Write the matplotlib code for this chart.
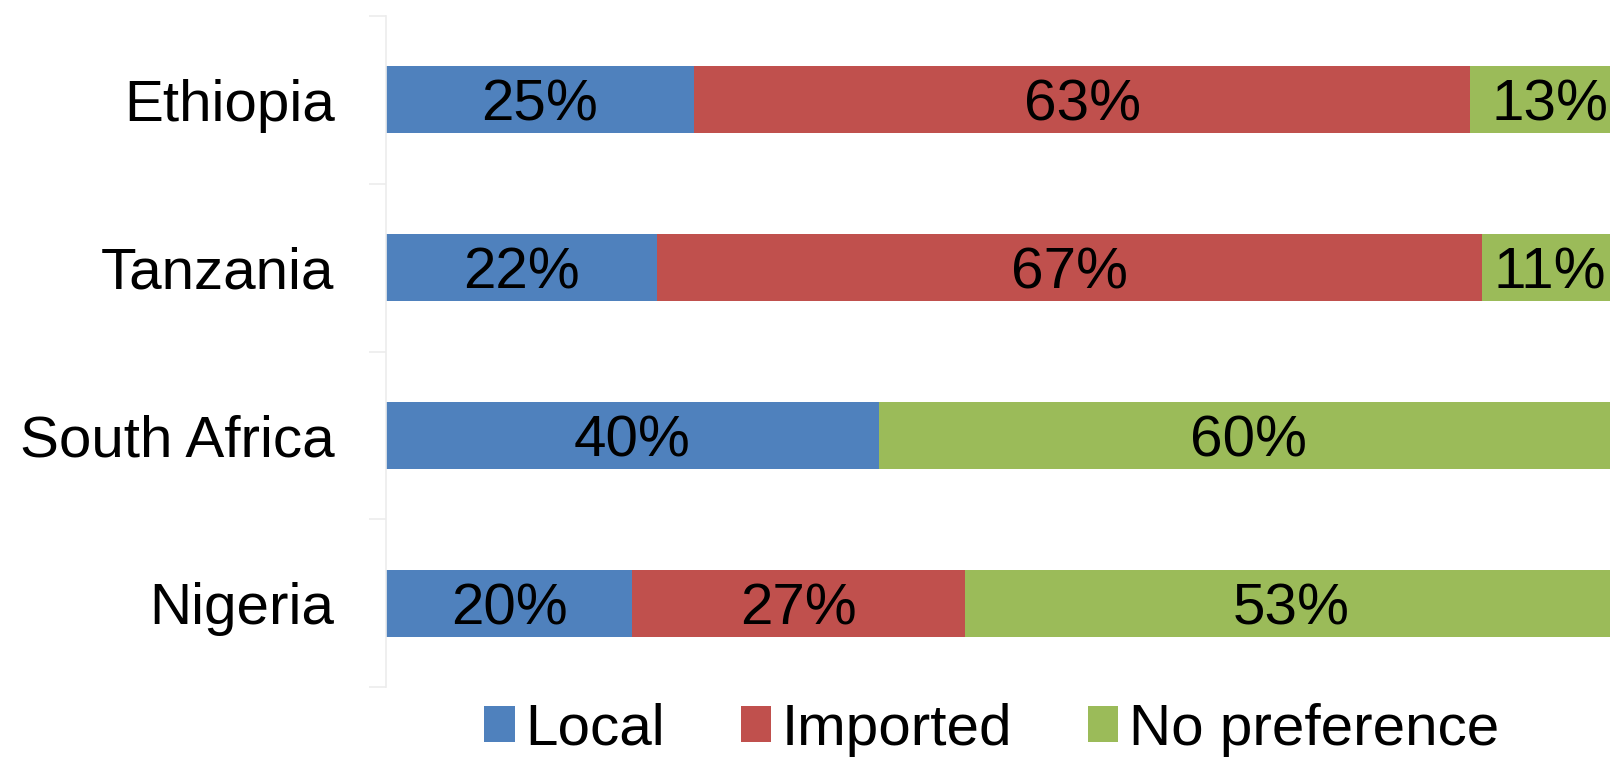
import matplotlib
matplotlib.use("Agg")
import matplotlib.pyplot as plt
from matplotlib.patches import Patch

plt.rcParams['font.family'] = ['Liberation Sans', 'DejaVu Sans']

# data (top to bottom in the picture)
countries = ["Ethiopia", "Tanzania", "South Africa", "Nigeria"]
local = [25, 22, 40, 20]
imported = [63, 67, 0, 27]
no_pref = [13, 11, 60, 53]

series_names = ["Local", "Imported", "No preference"]
colors = ["#4F81BD", "#C0504D", "#9BBB59"]

FS = 42

fig = plt.figure(figsize=(16.10, 7.57), dpi=100)
# axes run a little past the right edge, like the original
ax = fig.add_axes([386 / 1610, 70 / 757, 1232 / 1610, 671 / 757])

# bottom category first so Ethiopia ends up on top
cats = countries[::-1]
ypos = list(range(len(cats)))
series = [local[::-1], imported[::-1], no_pref[::-1]]

left = [0] * len(cats)
for vals, name, col in zip(series, series_names, colors):
    ax.barh(ypos, vals, left=left, height=0.4, color=col, label=name,
            linewidth=0)
    for y, v, l in zip(ypos, vals, left):
        if v > 0:
            # put the middle of the digits on the bar centre
            ax.annotate("{}%".format(v), (l + v / 2, y), xytext=(0, -0.36 * FS),
                        textcoords="offset points", ha="center", va="baseline",
                        fontsize=FS, color="black")
    left = [a + b for a, b in zip(left, vals)]

ax.set_xlim(0, 100)
ax.set_ylim(-0.5, len(cats) - 0.5)
ax.set_yticks(ypos)
ax.set_yticklabels(cats, fontsize=FS)
ax.tick_params(axis="y", which="major", length=0, pad=37)
ax.set_yticks([y - 0.5 for y in ypos] + [len(cats) - 0.5], minor=True)
ax.tick_params(axis="y", which="minor", length=12, width=1.2, color="#ececec")
ax.set_xticks([])

for s in ["top", "right", "bottom"]:
    ax.spines[s].set_visible(False)
ax.spines["left"].set_color("#ececec")
ax.spines["left"].set_linewidth(1.2)

handles = [Patch(facecolor=c, edgecolor="none") for c in colors]
fig.legend(handles, series_names, loc="center", bbox_to_anchor=(0.616, 0.036),
           ncol=3, frameon=False, fontsize=FS, handlelength=0.52,
           handleheight=0.58, handletextpad=0.18, columnspacing=1.3,
           borderpad=0, borderaxespad=0)

fig.savefig("out.png", dpi=100)
